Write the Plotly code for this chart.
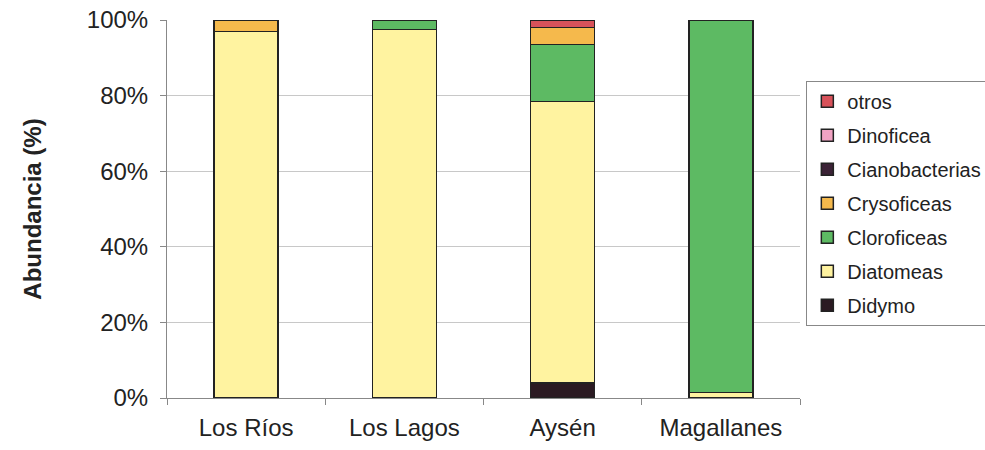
import plotly.graph_objects as go

# Regions (x axis categories)
regiones = ["Los Ríos", "Los Lagos", "Aysén", "Magallanes"]

# Relative abundance (%) of each group per region, bottom to top of the stack
didymo = [0, 0, 4, 0]
diatomeas = [97, 97.5, 74.5, 1.5]
cloroficeas = [0, 2.5, 15, 98.5]
crysoficeas = [3, 0, 4.5, 0]
cianobacterias = [0, 0, 0, 0]
dinoficea = [0, 0, 0, 0]
otros = [0, 0, 2, 0]

series = [
    ("Didymo", didymo, "#2b1a22"),
    ("Diatomeas", diatomeas, "#fff3a0"),
    ("Cloroficeas", cloroficeas, "#5dba63"),
    ("Crysoficeas", crysoficeas, "#f5b94c"),
    ("Cianobacterias", cianobacterias, "#3b2236"),
    ("Dinoficea", dinoficea, "#f1a3c3"),
    ("otros", otros, "#d8525a"),
]

fig = go.Figure()
n = len(series)
for i, (name, vals, color) in enumerate(series):
    fig.add_trace(go.Bar(
        x=regiones, y=vals, name=name, legendgroup=name,
        legendrank=n - i,  # top of the stack listed first
        marker=dict(color=color, line=dict(color="#222222", width=1.5)),
    ))

font_family = "Liberation Sans, Arial, sans-serif"

fig.update_layout(
    barmode="stack",
    bargap=0.595,
    width=985, height=450,
    margin=dict(l=167, r=185, t=20, b=52, autoexpand=False),
    plot_bgcolor="white", paper_bgcolor="white",
    font=dict(family=font_family, color="#222222"),
    legend=dict(
        x=1.01, xanchor="left", y=0.839, yanchor="top",
        traceorder="grouped",
        tracegroupgap=5,
        bordercolor="#888888", borderwidth=1,
        font=dict(size=20, family=font_family, color="#222222"),
        itemwidth=30,
        itemclick=False,
    ),
    xaxis=dict(
        tickson="boundaries", ticks="outside", ticklen=6, tickcolor="#888888",
        showline=True, linecolor="#888888", linewidth=1,
        tickfont=dict(size=24),
        ticklabelstandoff=8,
        showgrid=False,
    ),
    yaxis=dict(
        range=[0, 100], tickvals=[0, 20, 40, 60, 80, 100],
        ticktext=["0%", "20%", "40%", "60%", "80%", "100%"],
        ticks="outside", ticklen=6, tickcolor="#888888",
        showline=True, linecolor="#888888", linewidth=1,
        showgrid=True, gridcolor="#c8c8c8", gridwidth=1,
        tickfont=dict(size=24),
        ticklabelstandoff=7,
        title=dict(text="<b>Abundancia (%)</b>", font=dict(size=24), standoff=38),
        zeroline=False,
    ),
)

fig.write_html("out.html")
